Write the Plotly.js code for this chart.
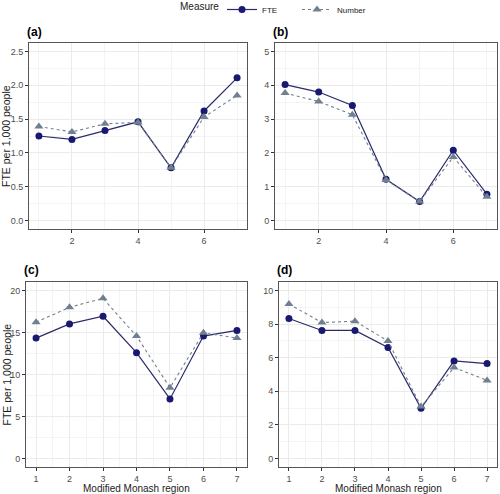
<!DOCTYPE html>
<html><head><meta charset="utf-8">
<script src="https://cdn.plot.ly/plotly-3.0.1.min.js"></script>
<style>body{margin:0;background:#fff}#c{width:500px;height:494px}</style>
</head><body><div id="c"></div>
<script>
const regions = [1, 2, 3, 4, 5, 6, 7];
const fteA = [1.25, 1.20, 1.33, 1.46, 0.78, 1.62, 2.11];
const numA = [1.39, 1.31, 1.43, 1.45, 0.78, 1.53, 1.85];
const fteB = [4.02, 3.80, 3.40, 1.22, 0.56, 2.08, 0.78];
const numB = [3.77, 3.52, 3.13, 1.20, 0.56, 1.88, 0.70];
const fteC = [14.33, 16.02, 16.93, 12.60, 7.09, 14.57, 15.24];
const numC = [16.22, 17.99, 19.06, 14.57, 8.43, 14.96, 14.33];
const fteD = [8.33, 7.62, 7.62, 6.61, 2.99, 5.81, 5.65];
const numD = [9.19, 8.09, 8.17, 6.99, 3.09, 5.41, 4.65];
const panelLabels = ['(a)', '(b)', '(c)', '(d)'];
const seriesNames = ['FTE', 'Number'];
const legendTitle = 'Measure';
const xTitle = 'Modified Monash region';
const yTitle = 'FTE per 1,000 people';

const H = 494, W = 500;
const py = v => 1 - v / H, px = v => v / W;
const panels = [
  {fte: fteA, num: numA, xd: [px(29), px(247)], yd: [py(229), py(43)], yr: [-0.125, 2.625], ydt: 0.5, xdt: 2, x0: 2, fmt: '.1f', ly: 32},
  {fte: fteB, num: numB, xd: [px(275), px(497)], yd: [py(229), py(43)], yr: [-0.25, 5.25], ydt: 1, xdt: 2, x0: 2, fmt: 'd', ly: 32},
  {fte: fteC, num: numC, xd: [px(26), px(247)], yd: [py(467), py(282)], yr: [-1, 21], ydt: 5, xdt: 1, x0: 1, fmt: 'd', ly: 270},
  {fte: fteD, num: numD, xd: [px(279), px(497)], yd: [py(467), py(282)], yr: [-0.5, 10.5], ydt: 2, xdt: 1, x0: 1, fmt: 'd', ly: 270}
];

const navy = '#191970', slate = '#708090';
const data = [], layout = {
  width: W, height: H, margin: {l: 0, r: 0, t: 0, b: 0, autoexpand: false},
  paper_bgcolor: '#fff', plot_bgcolor: '#fff',
  font: {family: 'Liberation Sans, Arial, sans-serif', color: '#4d4d4d', size: 9},
  showlegend: true,
  legend: {orientation: 'h', x: px(222), xanchor: 'left', y: py(-5), yanchor: 'top',
    font: {size: 8, color: '#1a1a1a'}, entrywidth: 30, tracegroupgap: 0, bgcolor: 'rgba(0,0,0,0)'},
  annotations: [{text: legendTitle, xref: 'paper', yref: 'paper', x: px(178), y: py(6.5),
    xanchor: 'left', yanchor: 'middle', showarrow: false, font: {size: 10, color: '#1a1a1a'}}]
};

panels.forEach((p, i) => {
  const k = i === 0 ? '' : String(i + 1);
  data.push({x: regions, y: p.fte, xaxis: 'x' + k, yaxis: 'y' + k, name: seriesNames[0],
    mode: 'lines+markers', line: {color: '#2b2b6b', width: 1.2},
    marker: {symbol: 'circle', size: 7, color: navy}, showlegend: i === 0, legendgroup: 'f'});
  data.push({x: regions, y: p.num, xaxis: 'x' + k, yaxis: 'y' + k, name: seriesNames[1],
    mode: 'lines+markers', line: {color: slate, width: 1.1, dash: '3px,3px'},
    marker: {symbol: 'triangle-up', size: 8, color: slate}, showlegend: i === 0, legendgroup: 'n'});
  const ax = {
    showline: true, mirror: true, linecolor: '#555', linewidth: 1,
    ticks: 'outside', ticklen: 3, tickcolor: '#333', showgrid: true, gridcolor: '#ebebeb',
    zeroline: false, tickfont: {size: 9, color: '#4d4d4d'}
  };
  layout['xaxis' + k] = Object.assign({}, ax, {
    domain: p.xd, range: [0.7, 7.3], tickmode: 'linear', tick0: p.x0, dtick: p.xdt,
    minor: {dtick: p.xdt / 2, tick0: p.x0, showgrid: true, gridcolor: '#f4f4f4', ticks: ''},
    anchor: 'y' + k
  });
  layout['yaxis' + k] = Object.assign({}, ax, {
    domain: p.yd, range: p.yr, tickmode: 'linear', tick0: 0, dtick: p.ydt, tickformat: p.fmt,
    minor: {dtick: p.ydt / 2, tick0: 0, showgrid: true, gridcolor: '#f4f4f4', ticks: ''},
    anchor: 'x' + k
  });
  layout.annotations.push({text: '<b>' + panelLabels[i] + '</b>', xref: 'paper', yref: 'paper',
    x: p.xd[0] - px(4), y: py(p.ly), xanchor: 'left', yanchor: 'middle',
    showarrow: false, font: {size: 12, color: '#000'}});
  if (i % 2 === 0) {
    layout.annotations.push({text: yTitle, xref: 'paper', yref: 'paper', textangle: -90,
      x: px(6), y: (p.yd[0] + p.yd[1]) / 2, xanchor: 'center', yanchor: 'middle',
      showarrow: false, font: {size: 10.5, color: '#1a1a1a'}});
  }
  if (i >= 2) {
    layout.annotations.push({text: xTitle, xref: 'paper', yref: 'paper',
      x: (p.xd[0] + p.xd[1]) / 2, y: py(488), xanchor: 'center', yanchor: 'middle',
      showarrow: false, font: {size: 10, color: '#1a1a1a'}});
  }
});

Plotly.newPlot('c', data, layout, {displayModeBar: false, staticPlot: true});
</script></body></html>
